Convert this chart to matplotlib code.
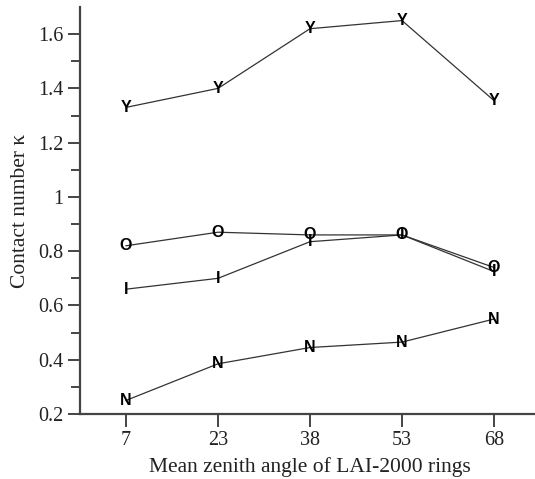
import matplotlib
matplotlib.use("Agg")
import matplotlib.pyplot as plt
from matplotlib.ticker import FixedLocator

angles = ["7", "23", "38", "53", "68"]
series_Y = [1.33, 1.40, 1.62, 1.65, 1.355]
series_O = [0.82, 0.87, 0.86, 0.86, 0.74]
series_I = [0.66, 0.70, 0.835, 0.86, 0.725]
series_N = [0.25, 0.385, 0.445, 0.465, 0.55]
series = [("Y", series_Y), ("O", series_O), ("I", series_I), ("N", series_N)]
yticks = [0.2, 0.4, 0.6, 0.8, 1.0, 1.2, 1.4, 1.6]
ytick_labels = ["0.2", "0.4", "0.6", "0.8", "1", "1.2", "1.4", "1.6"]

fig = plt.figure(figsize=(5.35, 4.79), dpi=100)
ax = fig.add_axes([80/535, 65/479, 460/535, 407/479])

x = list(range(len(angles)))
for letter, vals in series:
    ax.plot(x, vals, color="#333333", lw=0.9, zorder=2)
    for xi, v in zip(x, vals):
        ax.text(xi, v, letter, ha="center", va="center", fontsize=11.5,
                fontweight="bold", family="Liberation Sans", color="black", zorder=3)

ax.set_xlim(-0.5, 4.5)
ax.set_ylim(0.2, 1.7)
ax.set_xticks(x)
ax.set_xticklabels(angles)
ax.set_yticks(yticks)
ax.set_yticklabels(ytick_labels)
ax.yaxis.set_minor_locator(FixedLocator([0.3, 0.5, 0.7, 0.9, 1.1, 1.3, 1.5]))

for s in ["top", "right"]:
    ax.spines[s].set_visible(False)
for s in ["left", "bottom"]:
    ax.spines[s].set_linewidth(1.6)
    ax.spines[s].set_color("#444444")

ax.tick_params(axis="both", which="major", direction="out", length=9, width=1.4,
               color="#444444", labelsize=14.5, pad=3)
ax.tick_params(axis="y", which="minor", direction="out", length=6.5, width=1.4, color="#444444")
for lab in ax.get_xticklabels() + ax.get_yticklabels():
    lab.set_family("Liberation Serif")
    lab.set_color("#222222")

ax.set_xlabel("Mean zenith angle of LAI-2000 rings", family="Liberation Serif",
              fontsize=15.5, color="#222222", labelpad=5)
ax.set_ylabel("Contact number κ", family="Liberation Serif", fontsize=15.5,
              color="#222222", labelpad=6)

fig.savefig("out.png", dpi=100)
